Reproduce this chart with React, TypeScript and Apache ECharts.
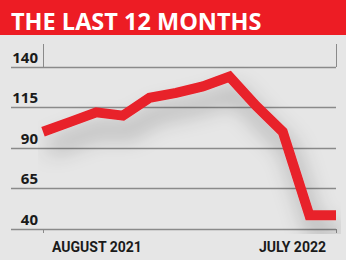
import React, { useEffect, useRef } from "react";
import * as echarts from "echarts";

const titleText = "THE LAST 12 MONTHS";
const months = [
  "AUGUST 2021", "SEPTEMBER 2021", "OCTOBER 2021", "NOVEMBER 2021", "DECEMBER 2021", "JANUARY 2022",
  "FEBRUARY 2022", "MARCH 2022", "APRIL 2022", "MAY 2022", "JUNE 2022", "JULY 2022",
];
const values = [100, 106, 112, 110, 121, 124, 128, 134, 116, 100, 48.5, 48.5];
const yMin = 40;
const yMax = 140;
const yStep = 25;

export default function App() {
  const ref = useRef<HTMLDivElement>(null);
  useEffect(() => {
    if (!ref.current) return;
    const chart = echarts.init(ref.current, null, { renderer: "svg" });
    const last = months.length - 1;
    const edge = (i: number) => i === 0 || i === last;
    const gridLine = "#8a8a8a";
    chart.setOption({
      animation: false,
      backgroundColor: "#ffffff",
      title: {
        text: titleText,
        left: 6,
        top: 4,
        textStyle: { color: "#ffffff", fontFamily: "'Open Sans', sans-serif", fontWeight: "bold", fontSize: 23.5 },
      },
      graphic: [
        { type: "rect", z: -10, shape: { x: 0, y: 0, width: 346, height: 260 }, style: { fill: "#e6e6e6" }, silent: true },
        { type: "rect", z: -9, shape: { x: 0, y: 0, width: 346, height: 35 }, style: { fill: "#ed1c24" }, silent: true },
      ],
      grid: [
        { left: 11, right: 14, top: 67, bottom: 39 },
        { left: 43, right: 14, top: 67, bottom: 39 },
      ],
      xAxis: [
        { type: "value", gridIndex: 0, show: false, min: 0, max: 1 },
        {
          type: "category",
          gridIndex: 1,
          data: months,
          boundaryGap: false,
          axisLine: { show: false },
          axisTick: { show: true, length: 4, lineStyle: { color: gridLine, width: 1 } },
          axisLabel: {
            interval: (i: number) => edge(i),
            alignMinLabel: "left",
            alignMaxLabel: "right",
            padding: [0, 10, 0, 9],
            margin: 11,
            color: "#1a1a1a",
            fontFamily: "Roboto, sans-serif",
            fontWeight: "bold",
            fontSize: 14,
          },
          splitLine: { show: false },
        },
        {
          type: "category",
          gridIndex: 1,
          data: months,
          boundaryGap: false,
          axisLine: { show: false },
          axisTick: { show: true, interval: (i: number) => edge(i), length: 23, lineStyle: { color: gridLine, width: 1 } },
          axisLabel: { show: false },
          splitLine: { show: false },
        },
      ],
      yAxis: [
        {
          type: "value",
          gridIndex: 0,
          min: yMin,
          max: yMax,
          interval: yStep,
          axisLine: { show: false },
          axisTick: { show: false },
          splitLine: { show: true, lineStyle: { color: gridLine, width: 1.3 } },
          axisLabel: {
            inside: true,
            margin: 27,
            align: "right",
            verticalAlign: "bottom",
            padding: [0, 0, 3, 0],
            color: "#1a1a1a",
            fontFamily: "'Open Sans', sans-serif",
            fontWeight: "bold",
            fontSize: 15,
          },
        },
        { type: "value", gridIndex: 1, min: yMin, max: yMax, interval: yStep, show: false },
      ],
      series: [
        {
          type: "line",
          xAxisIndex: 1,
          yAxisIndex: 1,
          data: values,
          symbol: "none",
          lineStyle: {
            color: "#e8202a",
            width: 10,
            join: "miter",
            shadowColor: "rgba(0,0,0,0.32)",
            shadowBlur: 22,
            shadowOffsetX: 6,
            shadowOffsetY: 16,
          },
        },
      ],
    });
    return () => chart.dispose();
  }, []);
  return (
    <div style={{ position: "fixed", left: 0, top: 0, width: 350, height: 268, background: "#fff" }}>
      <div ref={ref} style={{ width: 350, height: 268 }} />
    </div>
  );
}
